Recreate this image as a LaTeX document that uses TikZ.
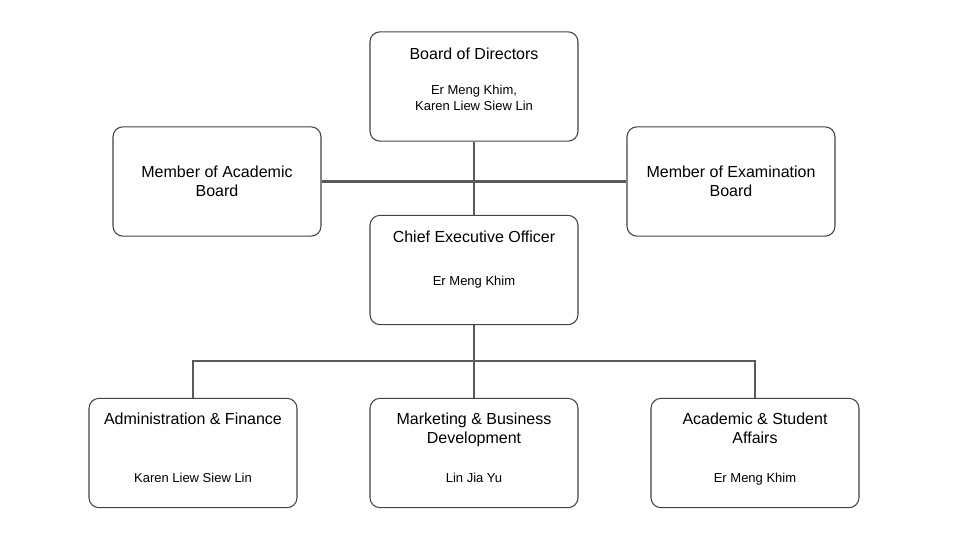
\documentclass[tikz,border=0pt]{standalone}
\usepackage{fontspec}
\setmainfont{Liberation Sans}
\usepackage{tikz}
\usepackage{xcolor}

\definecolor{boxline}{HTML}{444444}
\definecolor{connline}{HTML}{5A5A5A}

\tikzset{
  orgbox/.style={draw=boxline, line width=0.8pt, rounded corners=7.5pt, minimum width=156pt, minimum height=82pt, inner sep=0pt},
  titletext/.style={font=\fontsize{12}{14.25}\selectfont, align=center, inner sep=0pt, execute at begin node=\strut, execute at end node=\strut},
  nametext/.style={font=\fontsize{9.75}{12}\selectfont, align=center, inner sep=0pt, execute at begin node=\strut, execute at end node=\strut},
  connector/.style={draw=connline, line width=1.6pt}
}

\begin{document}
\begin{tikzpicture}[x=0.75pt, y=-0.75pt]
\useasboundingbox (0,0) rectangle (960,540);
% boxes
\node[orgbox] (board) at (474,86.5) {};
\node[orgbox] (acad) at (217,181.5) {};
\node[orgbox] (exam) at (731,181.5) {};
\node[orgbox] (ceo) at (474,270) {};
\node[orgbox] (admin) at (193,453) {};
\node[orgbox] (mkt) at (474,453) {};
\node[orgbox] (stud) at (755,453) {};
% texts
\node[titletext] (boardtitle) at (474,56) {Board of Directors};
\node[nametext] (boardname) at (474,100) {Er Meng Khim,\\Karen Liew Siew Lin};
\node[titletext] (acadtitle) at (217,184) {Member of Academic\\Board};
\node[titletext] (examtitle) at (731,184) {Member of Examination\\Board};
\node[titletext] (ceotitle) at (474,239) {Chief Executive Officer};
\node[nametext] (ceoname) at (474,282.5) {Er Meng Khim};
\node[titletext] (admintitle) at (193,421) {Administration \& Finance};
\node[nametext] (adminname) at (193,479) {Karen Liew Siew Lin};
\node[titletext] (mkttitle) at (474,431) {Marketing \& Business\\Development};
\node[nametext] (mktname) at (474,479) {Lin Jia Yu};
\node[titletext] (studtitle) at (755,431) {Academic \& Student\\Affairs};
\node[nametext] (studname) at (755,479) {Er Meng Khim};
% connectors
\coordinate (bus) at (474,361);
\draw[connector] (board.south) -- (ceo.north);
\draw[connector] (acad.east) -- (exam.west);
\draw[connector] (ceo.south) -- (bus);
\draw[connector] (bus) -| (admin.north);
\draw[connector] (bus) -| (stud.north);
\draw[connector] (bus) -- (mkt.north);
\end{tikzpicture}
\end{document}
